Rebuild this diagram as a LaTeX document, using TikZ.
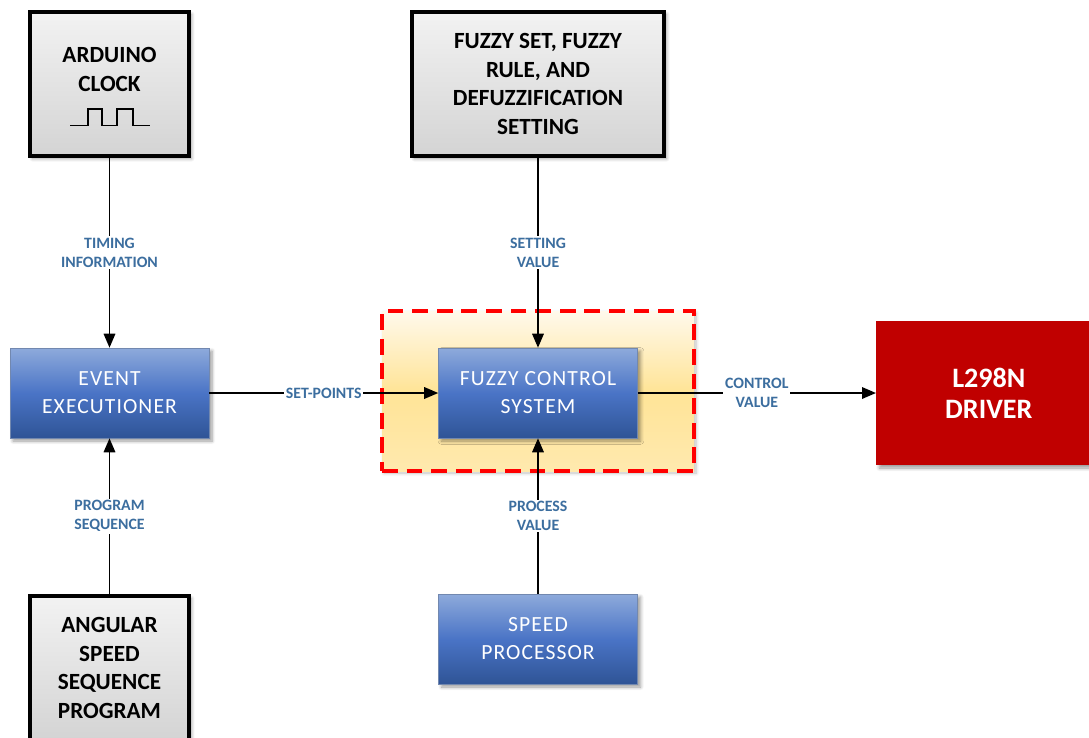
\documentclass[tikz,border=0pt]{standalone}
\usepackage{fontspec}
\setmainfont{Carlito}
\usetikzlibrary{arrows.meta,shadows.blur}
\definecolor{lblblue}{HTML}{3C6E9F}
\definecolor{drvred}{HTML}{C00000}
\definecolor{bluetop}{HTML}{8EAADB}
\definecolor{bluemid}{HTML}{4A74C6}
\definecolor{bluebot}{HTML}{2F5496}
\definecolor{zonetop}{HTML}{FFF9EC}
\definecolor{zonemid}{HTML}{FFE497}
\definecolor{zonebot}{HTML}{FFE9AE}

\begin{document}
\begin{tikzpicture}[>={Triangle[length=0.28cm,width=0.23cm]},
  greybox/.style={draw,line width=0.08cm,top color=black!5,bottom color=black!17,minimum width=3.18cm,minimum height=2.88cm,blur shadow={shadow xshift=0.05cm,shadow yshift=-0.05cm,shadow blur steps=6}},
  title/.style={align=center,font=\fontsize{13.2}{16.4}\selectfont\bfseries},
  bluebox/.style={draw=bluetop!80!black,line width=0.3pt,top color=bluetop,bottom color=bluebot,middle color=bluemid,minimum width=3.98cm,minimum height=1.8cm,align=center,text=white,font=\fontsize{12.3}{15.9}\selectfont\addfontfeature{LetterSpace=5},blur shadow={shadow xshift=0.06cm,shadow yshift=-0.06cm,shadow blur steps=6}},
  lbl/.style={fill=white,inner sep=1pt,align=center,text=lblblue,font=\fontsize{9}{10.8}\selectfont\bfseries},
  link/.style={->,line width=1pt}]
  \useasboundingbox (0,0) rectangle (21.78,-14.74);
  % dashed zone round the controller
  \node[draw=red,line width=1.8pt,dash pattern=on 9pt off 5pt,top color=zonetop,bottom color=zonebot,middle color=zonemid,minimum width=6.24cm,minimum height=3.2cm,blur shadow={shadow xshift=0.04cm,shadow yshift=-0.04cm,shadow blur steps=6,shadow opacity=25}] (zone) at (10.76,-7.82) {};
  % grey input boxes
  \node[greybox] (clock) at (2.19,-1.68) {};
  \node[title] (clocktxt) at ([yshift=0.29cm]clock.center) {ARDUINO\\CLOCK};
  \draw[line width=1pt] ([xshift=-0.79cm,yshift=-0.83cm]clock.center) -- ++(0.36,0) -- ++(0,0.33) -- ++(0.28,0) -- ++(0,-0.33) -- ++(0.30,0) -- ++(0,0.33) -- ++(0.32,0) -- ++(0,-0.33) -- ++(0.34,0);
  \node[greybox,title,minimum width=5.04cm] (fuzzyset) at (10.76,-1.68) {FUZZY SET, FUZZY\\RULE, AND\\DEFUZZIFICATION\\SETTING};
  \node[greybox,title] (angular) at (2.19,-13.36) {ANGULAR\\SPEED\\SEQUENCE\\PROGRAM};
  % blue blocks
  \node[bluebox] (event) at (2.19,-7.86) {EVENT\\EXECUTIONER};
  \node[bluebox] (fcs) at (10.76,-7.86) {FUZZY CONTROL\\SYSTEM};
  \node[bluebox] (speed) at (10.76,-12.78) {SPEED\\PROCESSOR};
  % driver
  \node[fill=drvred,minimum width=4.5cm,minimum height=2.88cm,anchor=west,align=center,text=white,font=\fontsize{16}{17.5}\selectfont\bfseries,blur shadow={shadow xshift=0.06cm,shadow yshift=-0.06cm,shadow blur steps=6}] (driver) at (17.52,-7.86) {L298N\\DRIVER};
  % connectors
  \draw[link] (clock) -- node[lbl] {TIMING\\INFORMATION} (event);
  \draw[link] (angular) -- node[lbl] {PROGRAM\\SEQUENCE} (event);
  \draw[link] (fuzzyset) -- node[lbl] {SETTING\\VALUE} (fcs);
  \draw[link] (speed) -- node[lbl] {PROCESS\\VALUE} (fcs);
  \draw[link] (event) -- node[lbl] {SET-POINTS} (fcs);
  \draw[link] (fcs) -- node[lbl] {CONTROL\\VALUE} (driver);
\end{tikzpicture}
\end{document}
